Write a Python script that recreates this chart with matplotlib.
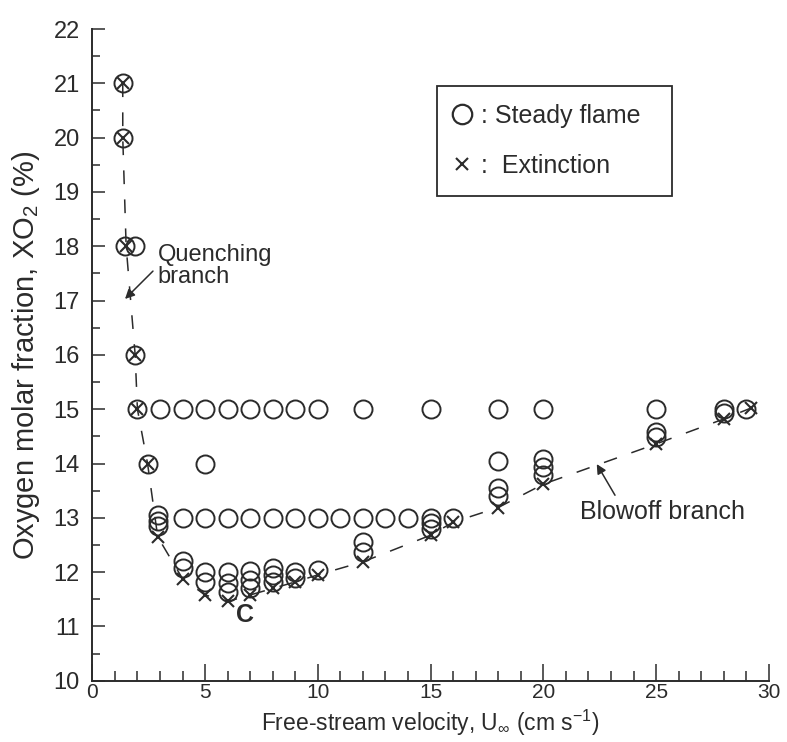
import matplotlib
matplotlib.use('Agg')
import matplotlib.pyplot as plt
from matplotlib.lines import Line2D
from matplotlib.ticker import MultipleLocator

plt.rcParams['font.family'] = ['Liberation Sans', 'DejaVu Sans']
plt.rcParams['mathtext.fontset'] = 'custom'
plt.rcParams['mathtext.rm'] = 'Liberation Sans'
plt.rcParams['mathtext.it'] = 'Liberation Sans:italic'
plt.rcParams['xtick.direction'] = 'in'
plt.rcParams['ytick.direction'] = 'in'

ink = '#2b2b2b'

# steady flame (open circles)
steady_x = [1.35, 1.35, 1.45, 1.9, 1.9, 2.0, 2.45,
            2.9, 2.9, 2.9,
            3, 4, 5, 6, 7, 8, 9, 10, 12, 15, 18, 20, 25, 28, 29,
            5,
            4, 5, 6, 7, 8, 9, 10, 11, 12, 13, 14, 15, 16,
            4, 4, 5, 5, 6, 6, 6, 7, 7, 7, 8, 8, 8, 9, 9, 10,
            12, 12, 15, 15, 18, 18, 18, 20, 20, 20, 25, 25, 28]
steady_y = [21, 20, 18, 18, 16, 15, 14,
            13.05, 12.95, 12.85,
            15, 15, 15, 15, 15, 15, 15, 15, 15, 15, 15, 15, 15, 15, 15,
            14,
            13, 13, 13, 13, 13, 13, 13, 13, 13, 13, 13, 13, 13,
            12.2, 12.08, 12.0, 11.82, 12.0, 11.8, 11.64, 12.02, 11.86, 11.7,
            12.07, 11.95, 11.82, 12.0, 11.9, 12.04,
            12.55, 12.37, 12.9, 12.8, 14.05, 13.55, 13.4, 14.08, 13.93, 13.78,
            14.58, 14.48, 14.93]

# extinction (crosses), also the dashed boundary
ext_x = [1.35, 1.35, 1.5, 1.9, 2.0, 2.45, 2.9, 4, 5, 6, 7, 8, 9, 10,
         12, 15, 16, 18, 20, 25, 28, 29.2]
ext_y = [21, 20, 18, 16, 15, 14, 12.65, 11.88, 11.58, 11.46, 11.58, 11.7,
         11.82, 11.95, 12.19, 12.68, 12.92, 13.19, 13.62, 14.36, 14.82, 15.02]

fig = plt.figure(figsize=(7.87, 7.42), dpi=100)
ax = fig.add_axes([0.1173, 0.0825, 0.8596, 0.8784])

ax.plot(ext_x, ext_y, color=ink, linewidth=1.1, linestyle=(0, (9, 10)), zorder=1)
ax.plot(steady_x, steady_y, linestyle='none', marker='o', markersize=13,
        markerfacecolor='none', markeredgecolor=ink, markeredgewidth=1.4, zorder=2)
ax.plot(ext_x, ext_y, linestyle='none', marker='x', markersize=8.5,
        color=ink, markeredgewidth=1.5, zorder=3)

ax.set_xlim(0, 30)
ax.set_ylim(10, 22)
ax.xaxis.set_major_locator(MultipleLocator(5))
ax.xaxis.set_minor_locator(MultipleLocator(1))
ax.yaxis.set_major_locator(MultipleLocator(1))
ax.yaxis.set_minor_locator(MultipleLocator(0.5))
ax.tick_params(axis='x', which='major', length=12, width=1.1, pad=1.5, labelsize=15, colors=ink)
ax.tick_params(axis='x', which='minor', length=7, width=1.1, colors=ink)
ax.tick_params(axis='y', which='major', length=9.5, width=1.1, pad=9, labelsize=17, colors=ink)
ax.tick_params(axis='y', which='minor', length=6, width=1.1, colors=ink)

for side in ['top', 'right']:
    ax.spines[side].set_visible(False)
for side in ['left', 'bottom']:
    ax.spines[side].set_linewidth(1.4)
    ax.spines[side].set_color(ink)

ax.set_xlabel('Free-stream velocity, U$_\\infty$ (cm s$^{-1}$)', fontsize=16.5, color=ink)
ax.set_ylabel('Oxygen molar fraction, XO$_2$ (%)', fontsize=21, color=ink)
ax.xaxis.set_label_coords(0.5, -0.041)
ax.yaxis.set_label_coords(-0.075, 0.5)

handles = [Line2D([], [], linestyle='none', marker='o', markersize=14,
                  markerfacecolor='none', markeredgecolor=ink, markeredgewidth=1.6),
           Line2D([], [], linestyle='none', marker='x', markersize=8.5,
                  color=ink, markeredgewidth=1.5)]
leg = ax.legend(handles, [': Steady flame', ':  Extinction'], fontsize=18,
                loc='upper left', bbox_to_anchor=(0.5095, 0.726, 0.3475, 0.186),
                mode='expand', borderpad=0.7, labelspacing=1.05,
                handlelength=0.6, handletextpad=0.45, fancybox=False,
                framealpha=1, edgecolor=ink, borderaxespad=0)
leg.get_frame().set_linewidth(1.3)
for t in leg.get_texts():
    t.set_color(ink)

ax.annotate('Quenching\nbranch', xy=(1.45, 17.03), xytext=(2.9, 17.63),
            fontsize=17, color=ink, ha='left', va='center', linespacing=1.0,
            arrowprops=dict(arrowstyle='-|>', color=ink, lw=1.1, shrinkA=2,
                            shrinkB=0, relpos=(0, 0.5), mutation_scale=14))
ax.annotate('Blowoff branch', xy=(22.37, 13.99), xytext=(21.63, 13.1),
            fontsize=18, color=ink, ha='left', va='center',
            arrowprops=dict(arrowstyle='-|>', color=ink, lw=1.1, shrinkA=2,
                            shrinkB=0, relpos=(0.23, 1.0), mutation_scale=14))
ax.text(6.77, 11.22, 'C', fontsize=18, fontweight='bold', color=ink,
        ha='center', va='center')

fig.savefig('out.png', dpi=100)
